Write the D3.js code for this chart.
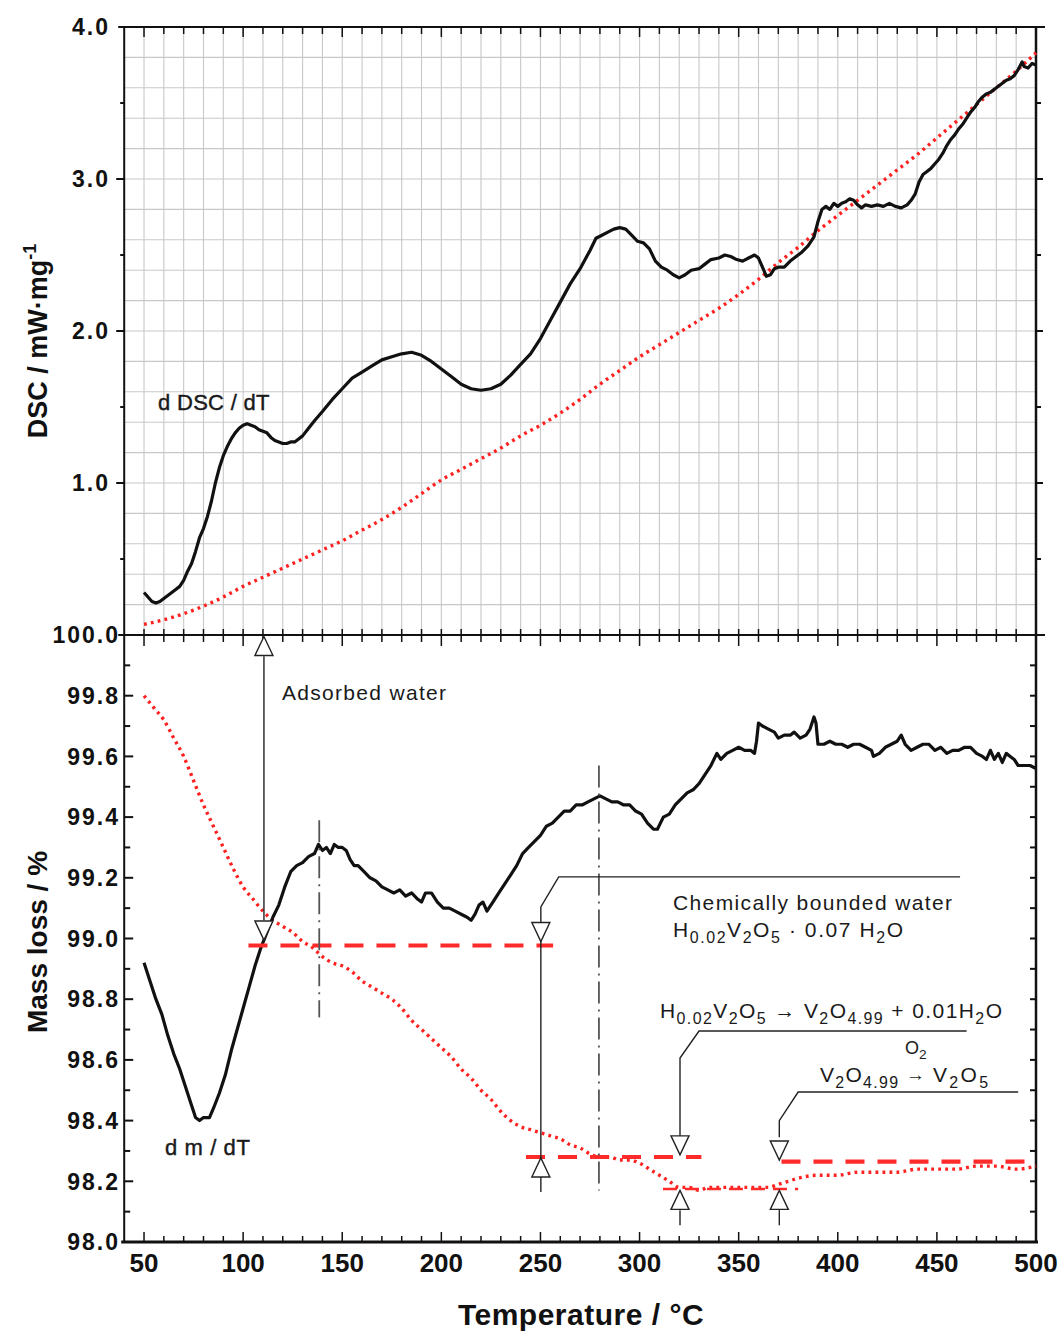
<!DOCTYPE html>
<html><head><meta charset="utf-8">
<script src="https://cdn.jsdelivr.net/npm/d3@7"></script>
<style>body{margin:0;background:#fff} svg{display:block}</style>
</head><body>
<svg id="c" width="1060" height="1333"></svg>
<script>
// ---------------- DATA ----------------
const dscCurve = [[50,0.28],[52,0.25],[54,0.22],[56,0.21],[58,0.22],[60,0.24],[62,0.26],[64,0.28],[66,0.30],[68,0.32],[70,0.36],[72,0.42],[74,0.47],[76,0.55],[78,0.64],[80,0.70],[82,0.78],[84,0.88],[86,1.00],[88,1.10],[90,1.18],[92,1.24],[94,1.29],[96,1.33],[98,1.36],[100,1.38],[102,1.39],[104,1.38],[106,1.37],[108,1.35],[110,1.34],[112,1.33],[114,1.30],[116,1.28],[118,1.27],[120,1.26],[122,1.26],[124,1.27],[126,1.27],[128,1.29],[130,1.31],[133,1.36],[136,1.41],[140,1.47],[145,1.55],[150,1.62],[155,1.69],[160,1.73],[165,1.77],[170,1.81],[175,1.83],[180,1.85],[185,1.86],[190,1.84],[195,1.80],[200,1.75],[205,1.70],[210,1.65],[215,1.62],[220,1.61],[225,1.62],[230,1.65],[235,1.71],[240,1.78],[245,1.85],[250,1.95],[255,2.07],[260,2.19],[265,2.31],[270,2.41],[275,2.53],[278,2.61],[281,2.63],[284,2.65],[287,2.67],[290,2.68],[293,2.67],[296,2.63],[299,2.59],[302,2.58],[305,2.54],[308,2.46],[311,2.42],[314,2.40],[317,2.37],[320,2.35],[323,2.37],[326,2.40],[330,2.41],[333,2.44],[336,2.47],[340,2.48],[343,2.50],[346,2.49],[349,2.47],[352,2.46],[355,2.48],[358,2.50],[360,2.48],[362,2.42],[364,2.36],[366,2.37],[368,2.41],[370,2.42],[373,2.42],[376,2.46],[379,2.49],[382,2.52],[385,2.56],[388,2.62],[390,2.72],[392,2.80],[394,2.82],[396,2.80],[398,2.84],[400,2.82],[402,2.84],[404,2.85],[406,2.87],[408,2.86],[410,2.83],[412,2.81],[414,2.83],[417,2.82],[420,2.83],[423,2.82],[426,2.84],[429,2.82],[432,2.81],[435,2.83],[437,2.86],[439,2.90],[441,2.98],[443,3.03],[445,3.05],[447,3.07],[449,3.10],[451,3.13],[453,3.17],[455,3.22],[457,3.26],[459,3.29],[461,3.33],[463,3.36],[465,3.40],[467,3.44],[469,3.47],[471,3.51],[473,3.54],[475,3.56],[477,3.57],[479,3.59],[481,3.61],[483,3.63],[485,3.65],[487,3.66],[489,3.68],[491,3.72],[493,3.77],[494,3.74],[496,3.73],[498,3.76],[500,3.75]];

const dscBaseline = [[50,0.07],[60,0.10],[70,0.14],[80,0.19],[90,0.25],[100,0.32],[110,0.38],[120,0.44],[130,0.50],[140,0.56],[150,0.62],[160,0.69],[170,0.76],[180,0.84],[190,0.93],[200,1.02],[210,1.09],[220,1.16],[230,1.23],[240,1.31],[250,1.38],[260,1.46],[270,1.55],[280,1.65],[290,1.74],[300,1.83],[310,1.91],[320,1.99],[330,2.07],[340,2.15],[350,2.24],[360,2.34],[370,2.45],[380,2.55],[390,2.66],[400,2.76],[410,2.86],[420,2.96],[430,3.06],[440,3.16],[450,3.27],[460,3.38],[470,3.49],[480,3.60],[490,3.71],[500,3.83]];

const dmCurve = [[50,98.92],[53,98.86],[56,98.80],[59,98.75],[62,98.68],[65,98.62],[68,98.57],[71,98.51],[74,98.45],[76,98.41],[78,98.40],[80,98.41],[83,98.41],[85,98.44],[88,98.49],[91,98.55],[94,98.63],[97,98.70],[100,98.77],[103,98.84],[106,98.91],[109,98.97],[112,99.02],[115,99.07],[118,99.11],[121,99.17],[124,99.22],[127,99.24],[130,99.25],[133,99.27],[136,99.28],[138,99.31],[140,99.29],[142,99.30],[144,99.28],[146,99.31],[148,99.30],[150,99.30],[152,99.29],[154,99.26],[156,99.24],[158,99.24],[161,99.22],[164,99.20],[167,99.19],[170,99.17],[173,99.16],[176,99.15],[179,99.16],[182,99.14],[185,99.15],[188,99.13],[190,99.12],[192,99.15],[195,99.15],[198,99.12],[201,99.10],[204,99.10],[207,99.09],[210,99.08],[213,99.07],[215,99.06],[217,99.08],[219,99.11],[221,99.12],[223,99.09],[226,99.12],[229,99.15],[232,99.18],[235,99.21],[238,99.24],[241,99.28],[244,99.30],[247,99.32],[250,99.34],[253,99.37],[256,99.38],[259,99.40],[262,99.42],[265,99.42],[268,99.44],[271,99.44],[274,99.45],[277,99.46],[280,99.47],[283,99.46],[286,99.45],[289,99.45],[292,99.44],[295,99.44],[298,99.42],[301,99.41],[304,99.38],[307,99.36],[309,99.36],[312,99.40],[315,99.41],[318,99.44],[321,99.46],[324,99.48],[327,99.49],[330,99.51],[333,99.54],[336,99.57],[339,99.61],[341,99.59],[344,99.61],[347,99.62],[350,99.63],[353,99.62],[356,99.62],[358,99.61],[359,99.65],[360,99.71],[362,99.70],[365,99.69],[368,99.68],[370,99.66],[373,99.67],[376,99.67],[378,99.68],[381,99.66],[384,99.67],[386,99.69],[388,99.73],[389,99.71],[390,99.64],[393,99.64],[396,99.65],[399,99.64],[402,99.64],[405,99.63],[408,99.64],[411,99.64],[414,99.63],[417,99.62],[418,99.60],[421,99.61],[424,99.63],[427,99.64],[430,99.65],[432,99.67],[434,99.64],[437,99.62],[440,99.63],[443,99.64],[446,99.64],[449,99.62],[452,99.63],[455,99.61],[458,99.62],[461,99.62],[464,99.63],[467,99.63],[470,99.61],[473,99.60],[475,99.59],[477,99.62],[479,99.59],[481,99.61],[483,99.58],[485,99.61],[487,99.60],[489,99.59],[491,99.57],[494,99.57],[497,99.57],[500,99.56]];

const massCurve = [[50,99.80],[55,99.76],[60,99.72],[65,99.66],[70,99.60],[75,99.52],[80,99.44],[85,99.37],[90,99.30],[95,99.23],[100,99.17],[105,99.13],[110,99.09],[115,99.06],[120,99.04],[125,99.02],[130,98.99],[135,98.97],[140,98.94],[145,98.92],[150,98.91],[155,98.89],[160,98.86],[165,98.84],[170,98.82],[175,98.80],[180,98.77],[185,98.73],[190,98.70],[195,98.67],[200,98.64],[205,98.61],[210,98.57],[215,98.54],[220,98.50],[225,98.47],[230,98.43],[235,98.40],[240,98.38],[245,98.37],[250,98.36],[255,98.35],[260,98.34],[265,98.32],[270,98.31],[275,98.29],[280,98.28],[285,98.28],[290,98.27],[295,98.27],[300,98.26],[305,98.24],[310,98.22],[315,98.20],[320,98.18],[325,98.18],[330,98.17],[335,98.18],[340,98.18],[345,98.18],[350,98.18],[355,98.18],[360,98.18],[365,98.18],[370,98.19],[375,98.20],[380,98.21],[390,98.22],[400,98.22],[410,98.23],[420,98.23],[430,98.23],[440,98.24],[450,98.24],[460,98.24],[470,98.25],[480,98.25],[490,98.24],[500,98.25]];

// dashed mass levels: [T start, T end, mass]
const massLevels = [[102.7,256.4,98.977],[242.7,331.2,98.28],[311.8,380,98.175],[371.6,500,98.265]];
// dash-dot markers: [T, mass top, mass bottom]
const dashDotLines = [[138.4,99.39,98.74],[279.5,99.57,98.17]];

const xTickLabels = ["50","100","150","200","250","300","350","400","450","500"];
const dscTickLabels = ["4.0","3.0","2.0","1.0"];
const massTickLabels = ["100.0","99.8","99.6","99.4","99.2","99.0","98.8","98.6","98.4","98.2","98.0"];

// ---------------- SETUP ----------------
const FONT = "'Liberation Sans', Arial, Helvetica, sans-serif";
const svg = d3.select('#c');
const x = d3.scaleLinear().domain([40, 500]).range([124.2, 1036]);
const yT = d3.scaleLinear().domain([0, 4]).range([635, 27]);
const yB = d3.scaleLinear().domain([98, 100]).range([1242, 635]);
const X0 = x(40), X1 = x(500);

// grid (top panel)
const grid = svg.append('g').attr('stroke', '#c8c8c8').attr('stroke-width', 1.1);
d3.range(50, 500, 10).forEach(t => grid.append('line').attr('x1', x(t)).attr('x2', x(t)).attr('y1', yT(4)).attr('y2', yT(0)));
d3.range(0.2, 3.95, 0.2).forEach(v => grid.append('line').attr('x1', X0).attr('x2', X1).attr('y1', yT(v)).attr('y2', yT(v)));

// axes lines
const ax = svg.append('g').attr('stroke', '#111').attr('fill', 'none');
ax.append('line').attr('x1', X0 - 6).attr('x2', X1 + 9).attr('y1', yT(4)).attr('y2', yT(4)).attr('stroke-width', 2);
ax.append('line').attr('x1', X0 - 6).attr('x2', X1 + 9).attr('y1', yT(0)).attr('y2', yT(0)).attr('stroke-width', 2);
ax.append('line').attr('x1', X0 - 3).attr('x2', X1 + 2).attr('y1', yB(98)).attr('y2', yB(98)).attr('stroke-width', 3);
ax.append('line').attr('x1', X0).attr('x2', X0).attr('y1', yT(4)).attr('y2', yB(98)).attr('stroke-width', 2);
ax.append('line').attr('x1', X1).attr('x2', X1).attr('y1', yT(4)).attr('y2', yB(98)).attr('stroke-width', 2.5);

// x ticks
d3.range(50, 500, 10).forEach(t => {
  const major = t % 50 === 0;
  ax.append('line').attr('x1', x(t)).attr('x2', x(t)).attr('y1', yT(4)).attr('y2', yT(4) + (major ? 10 : 7)).attr('stroke-width', 1.5);
  ax.append('line').attr('x1', x(t)).attr('x2', x(t)).attr('y1', yT(0) - 6).attr('y2', yT(0) + (major ? 11 : 7)).attr('stroke-width', 1.5);
  ax.append('line').attr('x1', x(t)).attr('x2', x(t)).attr('y1', yB(98)).attr('y2', yB(98) - (major ? 10 : 6)).attr('stroke-width', 1.5);
});
// y ticks top (outward)
d3.range(0.5, 4, 0.5).forEach(v => {
  const major = Math.abs(v - Math.round(v)) < 1e-6;
  ax.append('line').attr('x1', X0).attr('x2', X0 - (major ? 8 : 4)).attr('y1', yT(v)).attr('y2', yT(v)).attr('stroke-width', 2);
  ax.append('line').attr('x1', X1).attr('x2', X1 + (major ? 7 : 5)).attr('y1', yT(v)).attr('y2', yT(v)).attr('stroke-width', 2);
});
// y ticks bottom (inward)
d3.range(98.1, 99.95, 0.1).forEach(v => {
  const major = Math.round(v * 10) % 2 === 0;
  ax.append('line').attr('x1', X0).attr('x2', X0 + (major ? 9 : 6)).attr('y1', yB(v)).attr('y2', yB(v)).attr('stroke-width', 2);
  ax.append('line').attr('x1', X1).attr('x2', X1 - 6).attr('y1', yB(v)).attr('y2', yB(v)).attr('stroke-width', 2);
});

// tick labels
const tl = svg.append('g').attr('font-family', FONT).attr('font-weight', 'bold').attr('fill', '#111');
xTickLabels.forEach(s => tl.append('text').attr('x', x(+s)).attr('y', 1272).attr('text-anchor', 'middle').attr('font-size', 26).text(s));
dscTickLabels.forEach(s => tl.append('text').attr('x', 110).attr('y', yT(+s)).attr('dy', '0.36em').attr('text-anchor', 'end').attr('font-size', 23).attr('letter-spacing', 2).text(s));
massTickLabels.forEach(s => tl.append('text').attr('x', 120).attr('y', yB(+s)).attr('dy', '0.36em').attr('text-anchor', 'end').attr('font-size', 23).attr('letter-spacing', 2).text(s));

// axis titles
const at = svg.append('g').attr('font-family', FONT).attr('font-weight', 'bold').attr('fill', '#111');
const dscTitle = at.append('text').attr('transform', 'translate(47,341) rotate(-90)').attr('text-anchor', 'middle').attr('font-size', 27);
dscTitle.append('tspan').text('DSC / mW·mg');
dscTitle.append('tspan').attr('dy', -11).attr('font-size', 18).text('-1');
at.append('text').attr('transform', 'translate(47,942) rotate(-90)').attr('text-anchor', 'middle').attr('font-size', 28).text('Mass loss / %');
at.append('text').attr('x', 581).attr('y', 1325).attr('text-anchor', 'middle').attr('font-size', 30).attr('letter-spacing', 0.5).text('Temperature / °C');

// ---------------- MARKS ----------------
const lineT = d3.line().x(d => x(d[0])).y(d => yT(d[1]));
const lineB = d3.line().x(d => x(d[0])).y(d => yB(d[1]));

svg.append('path').datum(dscBaseline).attr('d', lineT.curve(d3.curveMonotoneX)).attr('fill', 'none')
  .attr('stroke', '#ff2020').attr('stroke-width', 3.4).attr('stroke-dasharray', '2.8,4.2');
svg.append('path').datum(massCurve).attr('d', lineB.curve(d3.curveMonotoneX)).attr('fill', 'none')
  .attr('stroke', '#ff2020').attr('stroke-width', 3.4).attr('stroke-dasharray', '2.8,4.2');

svg.append('path').datum(dscCurve).attr('d', d3.line().x(d => x(d[0])).y(d => yT(d[1]))).attr('fill', 'none')
  .attr('stroke', '#111').attr('stroke-width', 3.2).attr('stroke-linejoin', 'round');
svg.append('path').datum(dmCurve).attr('d', d3.line().x(d => x(d[0])).y(d => yB(d[1]))).attr('fill', 'none')
  .attr('stroke', '#111').attr('stroke-width', 3.2).attr('stroke-linejoin', 'round');

// dashed levels
massLevels.forEach((s, i) => {
  svg.append('line').attr('x1', x(s[0])).attr('x2', x(s[1])).attr('y1', yB(s[2])).attr('y2', yB(s[2]))
    .attr('stroke', '#ff2a2a').attr('stroke-width', i === 2 ? 2.5 : 4.2).attr('stroke-dasharray', i === 2 ? '14,8' : '19,13');
});
// dash-dot lines
dashDotLines.forEach(s => {
  svg.append('line').attr('x1', x(s[0])).attr('x2', x(s[0])).attr('y1', yB(s[1])).attr('y2', yB(s[2]))
    .attr('stroke', '#555').attr('stroke-width', 1.8).attr('stroke-dasharray', '22,6,2,6');
});

// ---------------- ANNOTATIONS ----------------
const an = svg.append('g').attr('stroke', '#222').attr('stroke-width', 1.4).attr('fill', 'none');
const TW = 9, TH = 19;
function triDown(t, m) { const px = x(t), py = yB(m);
  an.append('path').attr('d', `M${px-TW},${py-TH}L${px+TW},${py-TH}L${px},${py}Z`).attr('fill', '#fff'); }
function triUp(t, m) { const px = x(t), py = yB(m);
  an.append('path').attr('d', `M${px-TW},${py+TH}L${px+TW},${py+TH}L${px},${py}Z`).attr('fill', '#fff'); }
function poly(pts) { an.append('path').attr('d', d3.line().x(d => x(d[0])).y(d => yB(d[1]))(pts)); }

// adsorbed water
poly([[110.5, 99.93], [110.5, 99.06]]);
triUp(110.5, 99.995); triDown(110.5, 98.995);
// chemically bounded water (250)
poly([[461.7, 99.203], [259.2, 99.203], [250.2, 99.104], [250.2, 99.04]]);
triDown(250.2, 98.99);
poly([[250.2, 98.99], [250.2, 98.215]]);
an.append('line').attr('x1', x(250.2)).attr('x2', x(250.2)).attr('y1', yB(98.215)).attr('y2', yB(98.165));
triUp(250.2, 98.277);
// 321
poly([[465, 98.695], [330, 98.695], [320.4, 98.606], [320.4, 98.35]]);
triDown(320.4, 98.287);
triUp(320.4, 98.17); poly([[320.4, 98.105], [320.4, 98.055]]);
// 371
poly([[491, 98.494], [380, 98.494], [370.5, 98.40], [370.5, 98.345]]);
triDown(370.5, 98.27);
triUp(370.5, 98.17); poly([[370.5, 98.105], [370.5, 98.055]]);

// texts
function chem(xp, yp, parts, size, len, ls) {
  const t = svg.append('text').attr('x', xp).attr('y', yp).attr('font-family', FONT).attr('font-size', size)
    .attr('fill', '#1a1a1a');
  if (ls) t.attr('letter-spacing', ls);
  let shift = 0;
  parts.forEach(p => {
    const sub = Array.isArray(p);
    const s = sub ? p[0] : p;
    const target = sub ? Math.round(size * 0.3) : 0;
    t.append('tspan').attr('dy', target - shift).attr('font-size', sub ? size * 0.76 : size).text(s);
    shift = target;
  });
  if (len) t.attr('textLength', len).attr('lengthAdjust', 'spacing');
  return t;
}
chem(158, 410, ['d DSC / dT'], 22, null, 0.3).attr('font-weight', 500).attr('stroke', '#1a1a1a').attr('stroke-width', 0.4);
chem(165, 1155, ['d m / dT'], 22, null, 0.6).attr('stroke', '#1a1a1a').attr('stroke-width', 0.4);
chem(282, 700, ['Adsorbed water'], 21, 164);
chem(673, 910, ['Chemically bounded water'], 21, 279);
chem(673, 937, ['H', ['0.02'], 'V', ['2'], 'O', ['5'], ' · 0.07 H', ['2'], 'O'], 21, 230);
chem(660, 1018, ['H', ['0.02'], 'V', ['2'], 'O', ['5'], ' → V', ['2'], 'O', ['4.99'], ' + 0.01H', ['2'], 'O'], 21, 342);
chem(820, 1082, ['V', ['2'], 'O', ['4.99']], 21, 78);
chem(906, 1081, ['→'], 19);
chem(905, 1054, ['O', ['2']], 18);
chem(933, 1082, ['V', ['2'], 'O', ['5']], 21, 55);
</script>
</body></html>
